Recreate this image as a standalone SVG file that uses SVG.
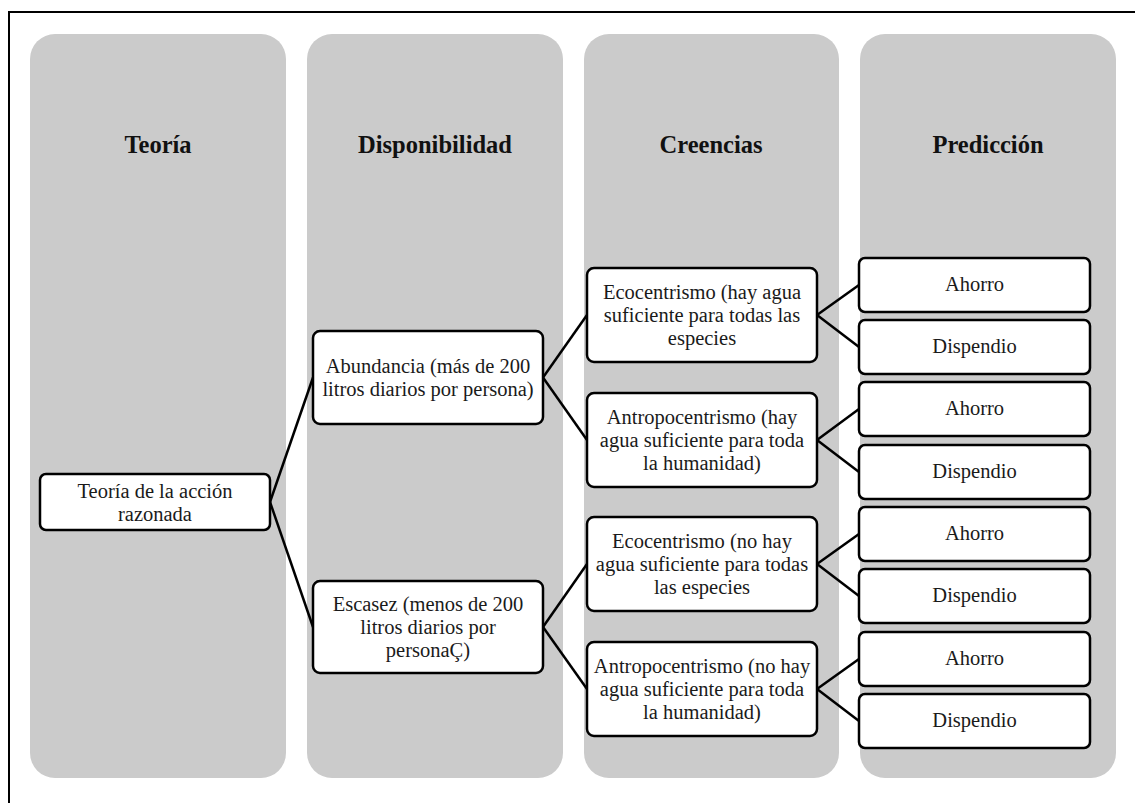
<svg xmlns="http://www.w3.org/2000/svg" width="1135" height="803" viewBox="0 0 1135 803">
<defs>
<style>
.col{fill:#cbcbcb;}
.box{fill:#ffffff;stroke:#000000;stroke-width:2.5;}
.hdr{font-family:"Liberation Serif","Times New Roman",serif;font-weight:bold;font-size:24.5px;fill:#111111;text-anchor:middle;}
.t{font-family:"Liberation Serif","Times New Roman",serif;font-size:20.5px;fill:#1a1a1a;text-anchor:middle;}
.conn line{stroke:#000000;stroke-width:2.5;}
.frame{stroke:#000000;stroke-width:2;fill:none;}
</style>
</defs>
<rect width="1135" height="803" fill="#ffffff"/>
<path class="frame" d="M9,803 L9,12 L1135,12"/>

<g id="columns">
<g id="col-teoria"><rect class="col" x="30" y="34" width="256" height="744" rx="25"/><text class="hdr" x="158" y="153">Teoría</text></g>
<g id="col-disponibilidad"><rect class="col" x="307" y="34" width="256" height="744" rx="25"/><text class="hdr" x="435" y="153">Disponibilidad</text></g>
<g id="col-creencias"><rect class="col" x="584" y="34" width="255" height="744" rx="25"/><text class="hdr" x="711" y="153">Creencias</text></g>
<g id="col-prediccion"><rect class="col" x="860" y="34" width="256" height="744" rx="25"/><text class="hdr" x="988" y="153">Predicción</text></g>
</g>

<g class="conn" id="connectors">
<line x1="270" y1="502" x2="313" y2="377.5"/>
<line x1="270" y1="502" x2="313" y2="627"/>
<line x1="543" y1="377.5" x2="587" y2="315"/>
<line x1="543" y1="377.5" x2="587" y2="440"/>
<line x1="543" y1="627" x2="587" y2="564"/>
<line x1="543" y1="627" x2="587" y2="689"/>
<line x1="817" y1="315" x2="859" y2="285"/>
<line x1="817" y1="315" x2="859" y2="347"/>
<line x1="817" y1="440" x2="859" y2="409"/>
<line x1="817" y1="440" x2="859" y2="472"/>
<line x1="817" y1="564" x2="859" y2="534"/>
<line x1="817" y1="564" x2="859" y2="596"/>
<line x1="817" y1="689" x2="859" y2="659"/>
<line x1="817" y1="689" x2="859" y2="721"/>
</g>

<g id="n-teoria"><rect class="box" x="40" y="474" width="230" height="56" rx="6"/>
<text class="t" x="155" y="497.5">Teoría de la acción</text><text class="t" x="155" y="520.5">razonada</text></g>

<g id="n-abundancia"><rect class="box" x="313" y="331" width="230" height="93" rx="7"/>
<text class="t" x="428" y="373">Abundancia (más de 200</text><text class="t" x="428" y="396">litros diarios por persona)</text></g>

<g id="n-escasez"><rect class="box" x="313" y="581" width="230" height="92" rx="7"/>
<text class="t" x="428" y="611">Escasez (menos de 200</text><text class="t" x="428" y="634">litros diarios por</text><text class="t" x="428" y="657">personaÇ)</text></g>

<g id="n-eco1"><rect class="box" x="587" y="268" width="230" height="94" rx="7"/>
<text class="t" x="702" y="299">Ecocentrismo (hay agua</text><text class="t" x="702" y="322">suficiente para todas las</text><text class="t" x="702" y="345">especies</text></g>

<g id="n-antro1"><rect class="box" x="587" y="393" width="230" height="94" rx="7"/>
<text class="t" x="702" y="424">Antropocentrismo (hay</text><text class="t" x="702" y="447">agua suficiente para toda</text><text class="t" x="702" y="470">la humanidad)</text></g>

<g id="n-eco2"><rect class="box" x="587" y="517" width="230" height="94" rx="7"/>
<text class="t" x="702" y="548">Ecocentrismo (no hay</text><text class="t" x="702" y="571">agua suficiente para todas</text><text class="t" x="702" y="594">las especies</text></g>

<g id="n-antro2"><rect class="box" x="587" y="642" width="230" height="94" rx="7"/>
<text class="t" x="702" y="673">Antropocentrismo (no hay</text><text class="t" x="702" y="696">agua suficiente para toda</text><text class="t" x="702" y="719">la humanidad)</text></g>

<g id="p1"><rect class="box" x="859" y="258" width="231" height="54" rx="6"/><text class="t" x="974.5" y="291">Ahorro</text></g>
<g id="p2"><rect class="box" x="859" y="320" width="231" height="54" rx="6"/><text class="t" x="974.5" y="353">Dispendio</text></g>
<g id="p3"><rect class="box" x="859" y="382" width="231" height="54" rx="6"/><text class="t" x="974.5" y="415">Ahorro</text></g>
<g id="p4"><rect class="box" x="859" y="445" width="231" height="54" rx="6"/><text class="t" x="974.5" y="478">Dispendio</text></g>
<g id="p5"><rect class="box" x="859" y="507" width="231" height="54" rx="6"/><text class="t" x="974.5" y="540">Ahorro</text></g>
<g id="p6"><rect class="box" x="859" y="569" width="231" height="54" rx="6"/><text class="t" x="974.5" y="602">Dispendio</text></g>
<g id="p7"><rect class="box" x="859" y="632" width="231" height="54" rx="6"/><text class="t" x="974.5" y="665">Ahorro</text></g>
<g id="p8"><rect class="box" x="859" y="694" width="231" height="54" rx="6"/><text class="t" x="974.5" y="727">Dispendio</text></g>
</svg>
